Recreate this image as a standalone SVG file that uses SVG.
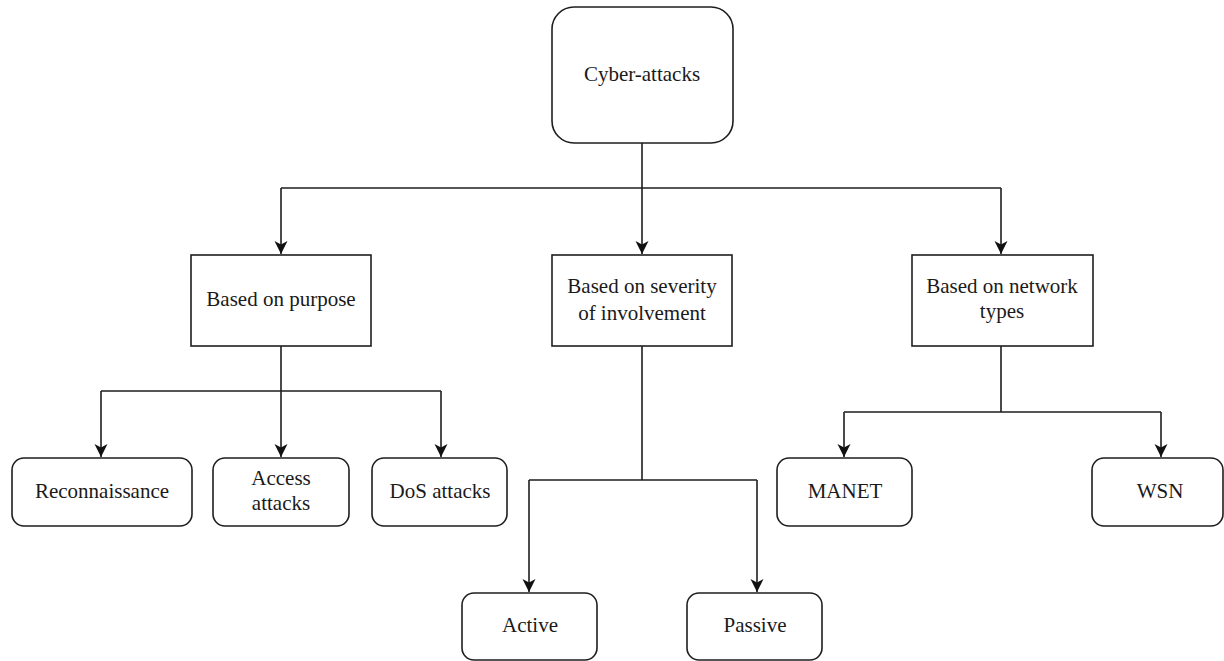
<svg xmlns="http://www.w3.org/2000/svg" width="1224" height="661" viewBox="0 0 1224 661">
  <defs>
    <marker id="arrow" markerWidth="14" markerHeight="14" refX="13" refY="6.5" orient="auto" markerUnits="userSpaceOnUse">
      <path d="M0,0 L13,6.5 L0,13 L3.5,6.5 Z" fill="#111"/>
    </marker>
    <style>
      .box { fill: #fff; stroke: #1e1e1e; stroke-width: 1.6; }
      .link { fill: none; stroke: #1e1e1e; stroke-width: 1.6; }
      .arr { fill: none; stroke: #1e1e1e; stroke-width: 1.6; marker-end: url(#arrow); }
      .lbl { font-size: 21px; fill: #1a1a1a; text-anchor: middle; }
    </style>
  </defs>
  <rect width="1224" height="661" fill="#fff"/>

  <!-- connectors -->
  <g id="connectors">
    <!-- root to categories -->
    <path class="link" d="M642,143 V188"/>
    <path class="link" d="M281,188 H1001"/>
    <path class="arr" d="M281,188 V254"/>
    <path class="arr" d="M642,188 V254"/>
    <path class="arr" d="M1001,188 V254"/>
    <!-- purpose branch -->
    <path class="link" d="M281,346 V391 M101,391 H441"/>
    <path class="arr" d="M101,391 V457"/>
    <path class="arr" d="M281,391 V457"/>
    <path class="arr" d="M441,391 V457"/>
    <!-- severity branch -->
    <path class="link" d="M642,346 V480 M529,480 H757"/>
    <path class="arr" d="M529,480 V592"/>
    <path class="arr" d="M757,480 V592"/>
    <!-- network branch -->
    <path class="link" d="M1001,346 V412 M844,412 H1161"/>
    <path class="arr" d="M844,412 V457"/>
    <path class="arr" d="M1161,412 V457"/>
  </g>

  <g font-family="Liberation Serif, Times New Roman, serif">
    <g id="cyber-attacks">
      <rect class="box" x="552" y="7" width="181" height="136" rx="22"/>
      <text class="lbl" x="642" y="81">Cyber-attacks</text>
    </g>

    <g id="based-on-purpose">
      <rect class="box" x="191" y="255" width="180" height="91"/>
      <text class="lbl" x="281" y="306">Based on purpose</text>
    </g>

    <g id="based-on-severity">
      <rect class="box" x="552" y="255" width="180" height="91"/>
      <text class="lbl" x="642" y="293">Based on severity</text>
      <text class="lbl" x="642" y="320">of involvement</text>
    </g>

    <g id="based-on-network">
      <rect class="box" x="912" y="255" width="181" height="91"/>
      <text class="lbl" x="1002" y="293">Based on network</text>
      <text class="lbl" x="1002" y="318">types</text>
    </g>

    <g id="reconnaissance">
      <rect class="box" x="12" y="458" width="180" height="68" rx="12"/>
      <text class="lbl" x="102" y="498">Reconnaissance</text>
    </g>

    <g id="access-attacks">
      <rect class="box" x="213" y="458" width="136" height="68" rx="12"/>
      <text class="lbl" x="281" y="485">Access</text>
      <text class="lbl" x="281" y="510">attacks</text>
    </g>

    <g id="dos-attacks">
      <rect class="box" x="372" y="458" width="135" height="68" rx="12"/>
      <text class="lbl" x="440" y="498">DoS attacks</text>
    </g>

    <g id="active">
      <rect class="box" x="462" y="593" width="135" height="67" rx="12"/>
      <text class="lbl" x="530" y="632">Active</text>
    </g>

    <g id="passive">
      <rect class="box" x="687" y="593" width="135" height="67" rx="12"/>
      <text class="lbl" x="755" y="632">Passive</text>
    </g>

    <g id="manet">
      <rect class="box" x="777" y="458" width="135" height="68" rx="12"/>
      <text class="lbl" x="845" y="498">MANET</text>
    </g>

    <g id="wsn">
      <rect class="box" x="1092" y="458" width="131" height="68" rx="12"/>
      <text class="lbl" x="1160" y="498">WSN</text>
    </g>
  </g>
</svg>
